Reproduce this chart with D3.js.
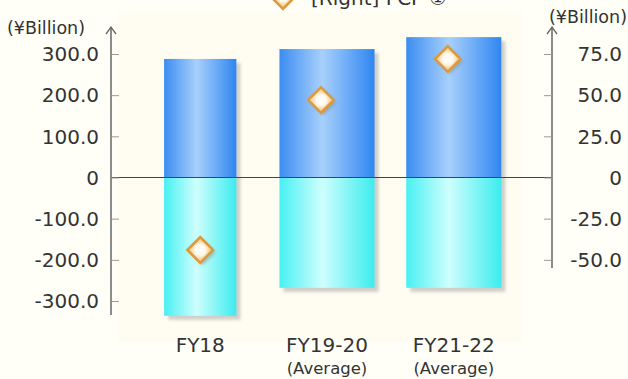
<!DOCTYPE html>
<html>
<head>
<meta charset="utf-8">
<script src="https://cdn.jsdelivr.net/npm/d3@7"></script>
<style>
  html, body { margin: 0; padding: 0; background: #fffff8; }
  svg { display: block; font-family: "DejaVu Sans", Verdana, sans-serif; }
</style>
</head>
<body>
<svg id="chart" width="628" height="379"></svg>
<script>
// Cash flow by period (¥ billion)
const categories = ["FY18", "FY19-20", "FY21-22"];
const subLabels = ["", "(Average)", "(Average)"];
const inflows = [288, 312, 341];        // left axis, upper bars
const outflows = [-336, -268, -268];    // left axis, lower bars
const fcf = [-44, 47, 72];              // right axis, diamonds
const leftTicks = [300, 200, 100, 0, -100, -200, -300];
const rightTicks = [75, 50, 25, 0, -25, -50];
const legendText = "[Right] FCF ①";

// layout
const leftAxisX = 111, rightAxisX = 552;
const barWidthFactor = [0.76, 1, 1];
const textColor = "#333";

const svg = d3.select("#chart");
const defs = svg.append("defs");

function hGrad(id, edgeL, mid, edgeR) {
  const g = defs.append("linearGradient").attr("id", id)
    .attr("x1", "0%").attr("x2", "100%").attr("y1", "0%").attr("y2", "0%");
  g.append("stop").attr("offset", "0%").attr("stop-color", edgeL);
  g.append("stop").attr("offset", "45%").attr("stop-color", mid);
  g.append("stop").attr("offset", "100%").attr("stop-color", edgeR);
}
hGrad("gradBlue", "#3b8df2", "#a8d0fb", "#2f86f1");
hGrad("gradCyan", "#48f0f2", "#cffefe", "#3cecee");

const rg = defs.append("radialGradient").attr("id", "gradDiamond");
rg.append("stop").attr("offset", "0%").attr("stop-color", "#ffffff");
rg.append("stop").attr("offset", "55%").attr("stop-color", "#fffaf0");
rg.append("stop").attr("offset", "100%").attr("stop-color", "#f6d59c");

const blur = defs.append("filter").attr("id", "soft")
  .attr("x", "-20%").attr("y", "-20%").attr("width", "140%").attr("height", "140%");
blur.append("feGaussianBlur").attr("stdDeviation", 1.6);

// faint plot area tint
svg.append("rect").attr("x", 118).attr("y", 12).attr("width", 404).attr("height", 330)
  .attr("fill", "#fffdf1");

const yLeft = d3.scaleLinear().domain([-300, 300]).range([301, 54]);
const yRight = d3.scaleLinear().domain([-75, 75]).range([301, 54]);
const x = d3.scaleBand().domain(categories).range([121, 533])
  .paddingInner(0.25).paddingOuter(0.25);

function barW(d, i) { return x.bandwidth() * barWidthFactor[i]; }
function barX(d, i) { return x(d) + (x.bandwidth() - barW(d, i)) / 2; }
const cx = d => x(d) + x.bandwidth() / 2;

const bars = svg.append("g");

// soft drop shadows behind the bars
bars.selectAll("rect.shadow")
  .data(categories)
  .join("rect")
  .attr("class", "shadow")
  .attr("x", (d, i) => barX(d, i) + 4)
  .attr("y", (d, i) => yLeft(inflows[i]) + 4)
  .attr("width", barW)
  .attr("height", (d, i) => yLeft(outflows[i]) - yLeft(inflows[i]))
  .attr("fill", "#a0a0a0")
  .attr("opacity", 0.5)
  .attr("filter", "url(#soft)");

bars.selectAll("rect.pos")
  .data(categories)
  .join("rect")
  .attr("class", "pos")
  .attr("x", barX)
  .attr("y", (d, i) => yLeft(inflows[i]))
  .attr("width", barW)
  .attr("height", (d, i) => yLeft(0) - yLeft(inflows[i]))
  .attr("fill", "url(#gradBlue)");

bars.selectAll("rect.neg")
  .data(categories)
  .join("rect")
  .attr("class", "neg")
  .attr("x", barX)
  .attr("y", yLeft(0))
  .attr("width", barW)
  .attr("height", (d, i) => yLeft(outflows[i]) - yLeft(0))
  .attr("fill", "url(#gradCyan)");

// zero line
svg.append("line")
  .attr("x1", leftAxisX).attr("x2", rightAxisX)
  .attr("y1", yLeft(0)).attr("y2", yLeft(0))
  .attr("stroke", "#444").attr("stroke-width", 1.2);

// axis lines with arrow heads
const axisColor = "#666";
function drawAxis(ax, yTop, yBottom) {
  const g = svg.append("g");
  g.append("line").attr("x1", ax).attr("x2", ax).attr("y1", yTop).attr("y2", yBottom)
    .attr("stroke", axisColor).attr("stroke-width", 1.5);
  g.append("path")
    .attr("d", `M${ax - 5},${yTop + 7} L${ax},${yTop} L${ax + 5},${yTop + 7}`)
    .attr("fill", "none").attr("stroke", axisColor).attr("stroke-width", 1.3);
}
drawAxis(leftAxisX, 27, 315);
drawAxis(rightAxisX, 27, 268);

// plain hyphen for negatives, one decimal, bare zero
const fmt = v => v === 0 ? "0" : (v < 0 ? "-" : "") + Math.abs(v).toFixed(1);

const la = svg.append("g").attr("transform", `translate(${leftAxisX},0)`)
  .call(d3.axisRight(yLeft).tickValues(leftTicks).tickSize(8).tickFormat(""));
la.select(".domain").remove();
la.selectAll(".tick line").attr("stroke", "#999");
svg.append("g").selectAll("text")
  .data(leftTicks).join("text")
  .attr("x", 99).attr("y", d => yLeft(d))
  .attr("dy", "0.36em").attr("text-anchor", "end")
  .attr("font-size", 20).attr("fill", textColor)
  .text(fmt);

const ra = svg.append("g").attr("transform", `translate(${rightAxisX},0)`)
  .call(d3.axisLeft(yRight).tickValues(rightTicks).tickSize(8).tickFormat(""));
ra.select(".domain").remove();
ra.selectAll(".tick line").attr("stroke", "#999");
svg.append("g").selectAll("text")
  .data(rightTicks).join("text")
  .attr("x", 622).attr("y", d => yRight(d))
  .attr("dy", "0.36em").attr("text-anchor", "end")
  .attr("font-size", 20).attr("fill", textColor)
  .text(fmt);

// unit labels
svg.append("text").attr("x", 7).attr("y", 34).attr("font-size", 17.5).attr("fill", textColor)
  .text("(¥Billion)");
svg.append("text").attr("x", 627).attr("y", 23).attr("text-anchor", "end")
  .attr("font-size", 17.5).attr("fill", textColor).text("(¥Billion)");

// category labels
svg.append("g").selectAll("text")
  .data(categories).join("text")
  .attr("x", (d, i) => barX(d, i) + barW(d, i) / 2)
  .attr("y", 352).attr("text-anchor", "middle")
  .attr("font-size", 20).attr("fill", textColor).text(d => d);
svg.append("g").selectAll("text")
  .data(subLabels).join("text")
  .attr("x", (d, i) => cx(categories[i]))
  .attr("y", 374).attr("text-anchor", "middle")
  .attr("font-size", 16.5).attr("fill", textColor).text(d => d);

// FCF diamonds
const diamond = d3.symbol().type(d3.symbolSquare).size(330);
const dx = (d, i) => cx(categories[i]) - (i === 0 ? 0 : 6);
const dg = svg.append("g");
dg.selectAll("path.dshadow")
  .data(fcf).join("path")
  .attr("class", "dshadow")
  .attr("d", diamond)
  .attr("transform", (d, i) => `translate(${dx(d, i) + 2.5},${yRight(d) + 2.5}) rotate(45)`)
  .attr("fill", "#8a8a8a").attr("opacity", 0.5).attr("filter", "url(#soft)");
dg.selectAll("path.dmark")
  .data(fcf).join("path")
  .attr("class", "dmark")
  .attr("d", diamond)
  .attr("transform", (d, i) => `translate(${dx(d, i)},${yRight(d)}) rotate(45)`)
  .attr("fill", "url(#gradDiamond)")
  .attr("stroke", "#dc9a3e").attr("stroke-width", 2.6);

// legend along the top edge
const lg = svg.append("g");
lg.append("path").attr("d", diamond)
  .attr("transform", "translate(283,-4) rotate(45)")
  .attr("fill", "url(#gradDiamond)").attr("stroke", "#dc9a3e").attr("stroke-width", 2.6);
lg.append("text").attr("x", 311).attr("y", 5).attr("font-size", 20).attr("fill", textColor)
  .text(legendText);
</script>
</body>
</html>
